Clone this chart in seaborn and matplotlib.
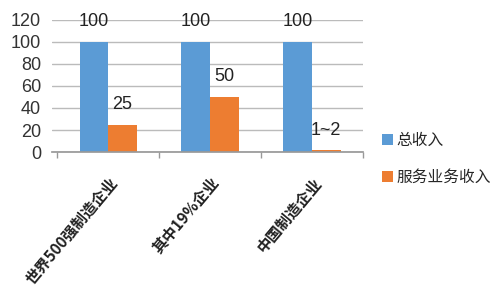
import matplotlib
matplotlib.use("Agg")
import matplotlib.pyplot as plt
import seaborn as sns
import pandas as pd

categories = ["世界500强制造企业", "其中19%企业", "中国制造企业"]
series_names = ["总收入", "服务业务收入"]
total_income = [100, 100, 100]
service_income = [25, 50, 1.5]
value_labels_total = ["100", "100", "100"]
value_labels_service = ["25", "50", "1~2"]
y_ticks = [0, 20, 40, 60, 80, 100, 120]

sns.set_theme(style="white")
plt.rcParams['font.family'] = ['Liberation Sans', 'Noto Sans CJK SC', 'DejaVu Sans']

df = pd.DataFrame({
    "cat": categories * 2,
    "series": [series_names[0]] * 3 + [series_names[1]] * 3,
    "value": total_income + service_income,
})

fig = plt.figure(figsize=(5.0, 2.96), dpi=100)
ax = fig.add_axes([0.104, 0.486, 0.622, 0.448])
palette = {series_names[0]: "#5B9BD5", series_names[1]: "#ED7D31"}
sns.barplot(data=df, x="cat", y="value", hue="series", palette=palette,
            width=0.56, ax=ax, saturation=1, legend=True, linewidth=0,
            edgecolor="none")

ax.set_ylim(0, 120)
ax.set_xlim(-0.55, 2.5)
ax.set_yticks(y_ticks)
ax.set_yticklabels([str(t) for t in y_ticks], fontsize=13, color="#333333",
                   family=['Liberation Sans', 'DejaVu Sans'])
ax.yaxis.grid(True, color="#bbbbbb", linewidth=1)
ax.set_axisbelow(True)
for s in ["left", "right", "top"]:
    ax.spines[s].set_visible(False)
ax.spines["bottom"].set_color("#999999")
ax.set_xlabel("")
ax.set_ylabel("")
ax.tick_params(axis="y", length=0, pad=8)
ax.tick_params(axis="x", which="major", length=0, pad=16)
ax.set_xticks([-0.5, 0.5, 1.5, 2.5], minor=True)
ax.tick_params(axis="x", which="minor", length=4, color="#999999", bottom=True)
ax.set_xticks(range(len(categories)))
ax.set_xticklabels(categories, rotation=50, ha="right", rotation_mode="anchor",
                   fontsize=11, color="#222222", fontweight="bold",
                   family=['Noto Sans CJK SC', 'DejaVu Sans'])

for cont, labs in zip(ax.containers, [value_labels_total, value_labels_service]):
    for bar, lab in zip(cont, labs):
        x = bar.get_x() + bar.get_width() / 2
        ax.text(x, bar.get_height() + 18, lab, ha="center", va="center",
                fontsize=13, color="#222222",
                family=['Liberation Sans', 'DejaVu Sans'])

ax.legend(loc="upper left", bbox_to_anchor=(1.04, 0.2), frameon=False,
          prop={"family": ['Noto Sans CJK SC', 'DejaVu Sans'], "size": 11.3},
          handlelength=0.7, handleheight=0.7, handletextpad=0.25,
          labelspacing=1.3, borderaxespad=0)

fig.savefig("out.png", dpi=100)
